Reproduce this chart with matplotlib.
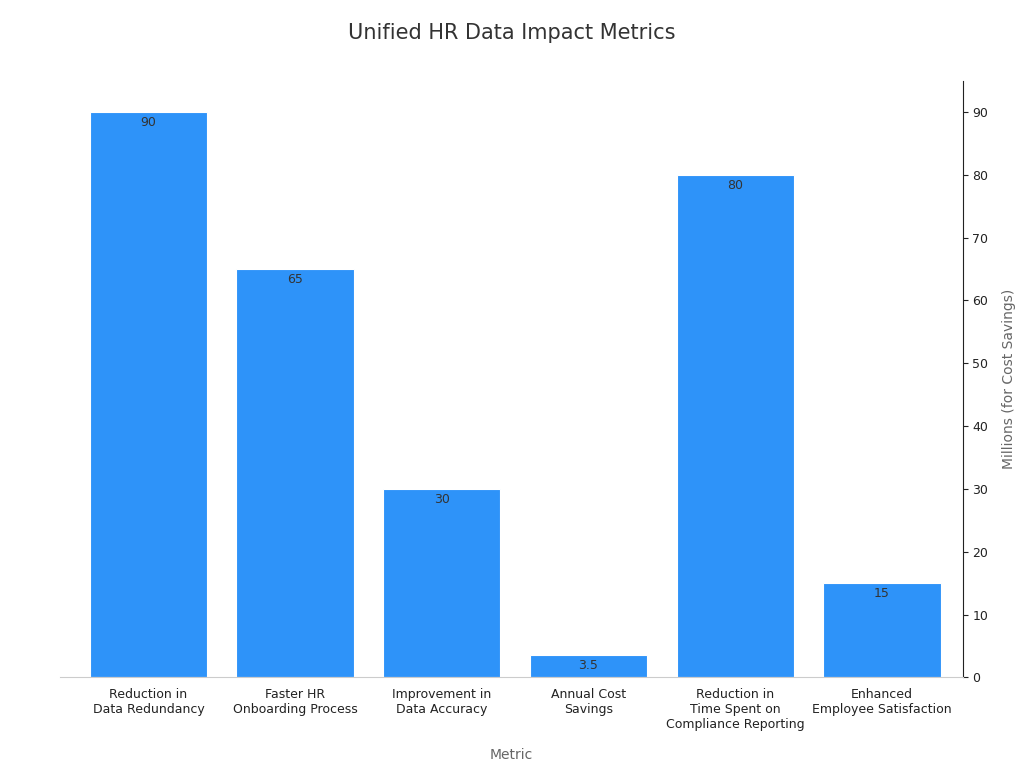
import numpy as np
import matplotlib.pyplot as plt

categories = ["Reduction in\nData Redundancy", "Faster HR\nOnboarding Process",
              "Improvement in\nData Accuracy", "Annual Cost\nSavings",
              "Reduction in\nTime Spent on\nCompliance Reporting",
              "Enhanced\nEmployee Satisfaction"]
values = [90, 65, 30, 3.5, 80, 15]
value_labels = ["90", "65", "30", "3.5", "80", "15"]

fig, ax = plt.subplots(figsize=(10.24, 7.68), dpi=100)
fig.subplots_adjust(left=0.059, right=0.94, top=0.895, bottom=0.118)

x = np.arange(len(categories))
bars = ax.bar(x, values, width=0.8, color="#2e93f9", edgecolor="white", linewidth=0.8)
for b, lab in zip(bars, value_labels):
    ax.text(b.get_x() + b.get_width() / 2, b.get_height() - 0.6, lab,
            ha="center", va="top", fontsize=9, color="#333333")

ax.set_xlim(-0.6, 5.55)
ax.set_ylim(0, 95)
ax.set_xticks(x)
ax.set_xticklabels(categories, fontsize=9, color="#222222")
ax.yaxis.tick_right()
ax.yaxis.set_label_position("right")
ax.set_yticks(range(0, 91, 10))
ax.tick_params(axis="y", labelsize=9, colors="#222222")
ax.tick_params(axis="x", length=0, pad=8)
ax.set_ylabel("Millions (for Cost Savings)", fontsize=10, color="#666666", labelpad=10)
ax.set_xlabel("Metric", fontsize=10, color="#666666", labelpad=12)

ax.spines["left"].set_visible(False)
ax.spines["top"].set_visible(False)
ax.spines["bottom"].set_color("#cccccc")
ax.spines["right"].set_color("#222222")

fig.suptitle("Unified HR Data Impact Metrics", fontsize=15, color="#333333", y=0.97)
fig.savefig("out.png")
